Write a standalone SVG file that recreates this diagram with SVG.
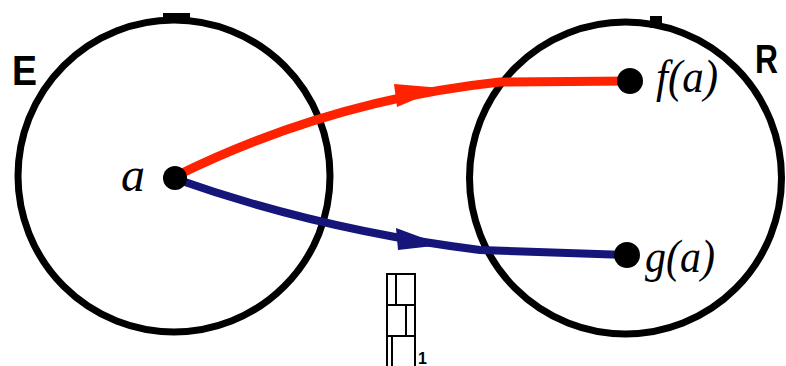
<svg xmlns="http://www.w3.org/2000/svg" width="786" height="366" viewBox="0 0 786 366">
<style>
.set{fill:none;stroke:#000;stroke-width:7}
.dot{fill:#000}
.lbl{font-family:"Liberation Serif",serif;font-style:italic;fill:#000}
.big{font-family:"Liberation Sans",sans-serif;font-weight:bold;fill:#000}
.box{fill:none;stroke:#000;stroke-width:2}
</style>
<rect width="786" height="366" fill="#fff"/>
<g id="E">
<circle class="set" cx="174" cy="176" r="156"/>
<rect x="163" y="13" width="27" height="10" fill="#000"/>
<text class="big" x="12" y="85" font-size="42" textLength="25" lengthAdjust="spacingAndGlyphs">E</text>
</g>
<g id="R">
<circle class="set" cx="625.5" cy="178" r="156"/>
<rect x="650" y="16" width="12" height="12" fill="#000"/>
<text class="big" x="755" y="73" font-size="41" textLength="23" lengthAdjust="spacingAndGlyphs">R</text>
</g>
<g id="connectors">
<path d="M176 176 Q330 100 500 82 L630 81" fill="none" stroke="#ff2200" stroke-width="9" stroke-linecap="round"/>
<polygon points="394,84 442,88 397,107" fill="#ff2200"/>
<path d="M176 179 Q320 230 480 250 L627 255" fill="none" stroke="#15157a" stroke-width="8" stroke-linecap="round"/>
<polygon points="396,228 442,245 398,250" fill="#15157a"/>
</g>
<g id="a">
<circle class="dot" cx="175" cy="178" r="12"/>
<text class="lbl" x="121" y="191" font-size="48">a</text>
</g>
<g id="fa">
<circle class="dot" cx="630" cy="81" r="13"/>
<text class="lbl" x="656" y="92" font-size="46" textLength="62" lengthAdjust="spacingAndGlyphs">f(a)</text>
</g>
<g id="ga">
<circle class="dot" cx="627" cy="255" r="13"/>
<text class="lbl" x="645" y="272" font-size="46" textLength="70" lengthAdjust="spacingAndGlyphs">g(a)</text>
</g>
<g id="fragment">
<rect class="box" x="387" y="274" width="28" height="100"/>
<line class="box" x1="387" y1="305" x2="415" y2="305"/>
<line class="box" x1="387" y1="336" x2="415" y2="336"/>
<line class="box" x1="396" y1="274" x2="396" y2="305"/>
<line class="box" x1="406" y1="305" x2="406" y2="336"/>
<line class="box" x1="392" y1="336" x2="392" y2="366"/>
<text class="big" x="418" y="364" font-size="16">1</text>
</g>
</svg>
